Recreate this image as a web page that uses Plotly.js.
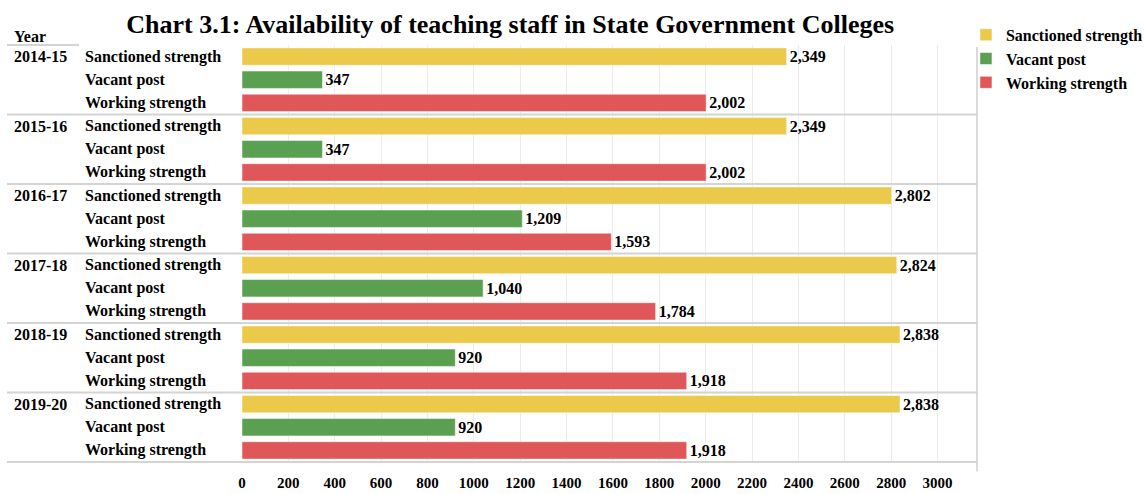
<!DOCTYPE html>
<html>
<head>
<meta charset="utf-8">
<script src="https://cdn.plot.ly/plotly-3.0.1.min.js"></script>
<style>
  html, body { margin: 0; padding: 0; background: #fff; }
  #chart { width: 1144px; height: 494px; }
</style>
</head>
<body>
<div id="chart"></div>
<script>
// data
const years = ['2014-15', '2015-16', '2016-17', '2017-18', '2018-19', '2019-20'];
const measures = ['Sanctioned strength', 'Vacant post', 'Working strength'];
const sanctioned = [2349, 2349, 2802, 2824, 2838, 2838];
const vacant = [347, 347, 1209, 1040, 920, 920];
const working = [2002, 2002, 1593, 1784, 1918, 1918];
const tickValues = [0, 200, 400, 600, 800, 1000, 1200, 1400, 1600, 1800, 2000, 2200, 2400, 2600, 2800, 3000];

const colors = ['#ebc94a', '#5aa050', '#e0575a'];
const serif = 'Liberation Serif, Times New Roman, serif';

// one category per (year, measure) row
const rowId = (y, m) => y + ' | ' + m;
const rows = [];
years.forEach(y => measures.forEach(m => rows.push(rowId(y, m))));

const fmt = v => v.toLocaleString('en-US');

const seriesValues = [sanctioned, vacant, working];
const traces = measures.map((m, k) => ({
    type: 'bar',
    orientation: 'h',
    name: m,
    y: years.map(y => rowId(y, m)),
    x: seriesValues[k],
    text: seriesValues[k].map(fmt),
    textposition: 'outside',
    cliponaxis: false,
    textfont: { family: serif, size: 16, color: '#000', weight: 'bold' },
    marker: { color: colors[k], line: { color: 'rgba(255,255,255,0.5)', width: 1 } },
    hoverinfo: 'skip'
}));

// pixel helpers for paper coordinates (plot area x 242..977)
const plotL = 242, plotR = 977;
const px = x => (x - plotL) / (plotR - plotL);

const labelFont = { family: serif, size: 16, color: '#000', weight: 'bold' };
const annotations = [];
years.forEach(y => {
    annotations.push({
        xref: 'paper', yref: 'y', x: px(12), y: rowId(y, measures[0]),
        xanchor: 'left', yanchor: 'middle', showarrow: false, text: y, font: labelFont
    });
    measures.forEach(m => annotations.push({
        xref: 'paper', yref: 'y', x: px(83), y: rowId(y, m),
        xanchor: 'left', yanchor: 'middle', showarrow: false, text: m, font: labelFont
    }));
});
annotations.push({
    xref: 'paper', yref: 'paper', x: px(12), y: 0.995,
    xanchor: 'left', yanchor: 'bottom', showarrow: false, text: 'Year', font: labelFont
});

const shapes = [];
// separators between year groups and at the bottom
for (let i = 1; i <= years.length; i++) {
    shapes.push({
        type: 'line', xref: 'paper', yref: 'y',
        x0: px(7), x1: 1, y0: i * measures.length - 0.5, y1: i * measures.length - 0.5,
        line: { color: '#d4d4d4', width: 2 }
    });
}
// line under the "Year" header
shapes.push({
    type: 'line', xref: 'paper', yref: 'paper', x0: px(7), x1: px(79), y0: 1, y1: 1,
    line: { color: '#d4d4d4', width: 2 }
});
// right border
shapes.push({
    type: 'line', xref: 'paper', yref: 'paper', x0: 1, x1: 1, y0: -0.02, y1: 0.995,
    line: { color: '#cfcfcf', width: 1.5 }
});

const layout = {
    width: 1144,
    height: 494,
    margin: { l: plotL, r: 1144 - plotR, t: 45, b: 31, pad: 0, autoexpand: false },
    paper_bgcolor: '#fff',
    plot_bgcolor: '#fff',
    barmode: 'overlay',
    bargap: 0.25,
    title: {
        text: 'Chart 3.1: Availability of teaching staff in State Government Colleges',
        font: { family: serif, size: 26, color: '#000', weight: 'bold' },
        xref: 'container', x: 0.446, xanchor: 'center',
        yref: 'container', y: 0.952, yanchor: 'middle'
    },
    xaxis: {
        range: [0, 3170],
        tickvals: tickValues,
        ticktext: tickValues.map(String),
        showgrid: true,
        gridcolor: '#ececec',
        gridwidth: 1,
        zeroline: false,
        showline: false,
        ticks: '',
        ticklabelstandoff: 9,
        tickfont: { family: serif, size: 15, color: '#000', weight: 'bold' },
        automargin: false,
        fixedrange: true
    },
    yaxis: {
        type: 'category',
        categoryorder: 'array',
        categoryarray: rows,
        autorange: 'reversed',
        showticklabels: false,
        showgrid: false,
        zeroline: false,
        ticks: '',
        automargin: false,
        fixedrange: true
    },
    showlegend: true,
    legend: {
        x: 0.985, xref: 'paper', xanchor: 'left',
        y: 1.065, yanchor: 'top',
        traceorder: 'normal',
        font: labelFont,
        bgcolor: 'rgba(0,0,0,0)',
        itemwidth: 30
    },
    annotations: annotations,
    shapes: shapes
};

Plotly.newPlot('chart', traces, layout, { displayModeBar: false, staticPlot: true });
</script>
</body>
</html>
